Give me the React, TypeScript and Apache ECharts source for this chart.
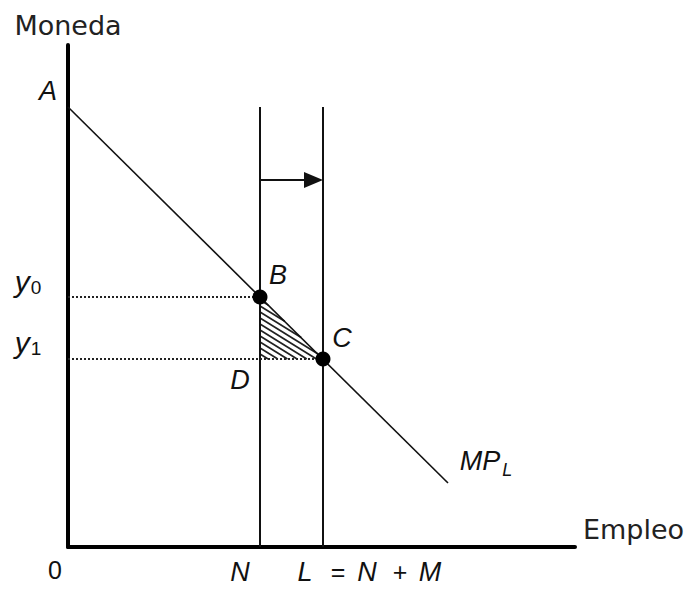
import React, { useEffect, useRef } from "react";
import * as echarts from "echarts";

// Data (abstract units: x = employment, y = money)
const mplCurve: number[][] = [[0, 440], [380, 64]];
const laborN = 192;
const laborL = 255;
const lineTop = 440;
const wageY0 = 250;
const wageY1 = 188;
const arrowY = 367;
const equilibriumPoints: number[][] = [[192, 250], [255, 188]];
const hatchTriangle: number[] = [192, 250, 255, 188];

// Annotation labels (text + anchor in data units)
const annotationTexts = ["{i|A}", "{y|y}{s|0}", "{y|y}{s|1}", "{i|B}", "{i|C}", "{i|D}", "{i|MP}{si|L}", "{n|0}", "{i|N}", "{i|L}", "{n|=}", "{i|N}", "{n|+}", "{i|M}"];
const annotationX = [-20, -40, -40, 210, 274, 172, 418, -13, 172, 237, 270, 299, 332, 362];
const annotationY = [456, 266, 205, 272, 209, 167, 86, -23, -25, -25, -25, -25, -25, -25];

export default function App() {
  const ref = useRef<HTMLDivElement>(null);
  useEffect(() => {
    if (!ref.current) return;
    const chart = echarts.init(ref.current, null, { renderer: "svg" });
    const ink = "#111";
    const rich = {
      i: { fontFamily: "Liberation Sans", fontStyle: "italic", fontSize: 27, color: ink },
      y: { fontFamily: "Liberation Sans", fontStyle: "italic", fontSize: 30, color: ink },
      n: { fontFamily: "Liberation Sans", fontSize: 25, color: ink },
      s: { fontFamily: "Liberation Sans", fontSize: 19, color: ink, verticalAlign: "bottom", padding: [0, 0, -1, 1] },
      si: { fontFamily: "Liberation Sans", fontStyle: "italic", fontSize: 18, color: ink, verticalAlign: "bottom", padding: [0, 0, -4, 2] },
    };
    const plainLine = (data: number[][], width: number, type: any = "solid", color: string = ink) => ({
      type: "line",
      data,
      symbol: "none",
      silent: true,
      lineStyle: { color, width, type },
      z: 3,
    });
    chart.setOption({
      animation: false,
      grid: { left: 68, top: 45, right: 118, bottom: 42 },
      xAxis: {
        type: "value",
        min: 0,
        max: 507,
        name: "Empleo",
        nameLocation: "end",
        nameGap: 8,
        nameTextStyle: { fontFamily: "DejaVu Sans", fontSize: 27, color: "#222", verticalAlign: "bottom", padding: [0, 0, 4, 0] },
        axisLine: { show: true, lineStyle: { color: "#000", width: 4 } },
        axisTick: { show: false },
        axisLabel: { show: false },
        splitLine: { show: false },
      },
      yAxis: {
        type: "value",
        min: 0,
        max: 502,
        name: "Moneda",
        nameLocation: "end",
        nameGap: 6,
        nameTextStyle: { fontFamily: "DejaVu Sans", fontSize: 27, color: "#222" },
        axisLine: { show: true, lineStyle: { color: "#000", width: 4 } },
        axisTick: { show: false },
        axisLabel: { show: false },
        splitLine: { show: false },
      },
      series: [
        plainLine(mplCurve, 1.6),
        plainLine([[laborN, 0], [laborN, lineTop]], 2),
        plainLine([[laborL, 0], [laborL, lineTop]], 2),
        plainLine([[0, wageY0], [laborN, wageY0]], 1.8, [2, 2], "#222"),
        plainLine([[0, wageY1], [laborL, wageY1]], 1.8, [2, 2], "#222"),
        {
          type: "custom",
          silent: true,
          data: [[laborN, arrowY, laborL, arrowY]],
          renderItem: (params: any, api: any) => {
            const p0 = api.coord([api.value(0), api.value(1)]);
            const p1 = api.coord([api.value(2), api.value(3)]);
            const headLen = 19;
            const headHalf = 8;
            return {
              type: "group",
              children: [
                { type: "line", shape: { x1: p0[0], y1: p0[1], x2: p1[0] - headLen + 2, y2: p1[1] }, style: { stroke: ink, lineWidth: 2 } },
                {
                  type: "polygon",
                  shape: { points: [[p1[0], p1[1]], [p1[0] - headLen, p1[1] - headHalf], [p1[0] - headLen, p1[1] + headHalf]] },
                  style: { fill: ink },
                },
              ],
            };
          },
          z: 4,
        },
        {
          type: "custom",
          silent: true,
          data: [hatchTriangle],
          renderItem: (params: any, api: any) => {
            const pB = api.coord([api.value(0), api.value(1)]);
            const pD = api.coord([api.value(0), api.value(3)]);
            const pC = api.coord([api.value(2), api.value(3)]);
            const x0 = pB[0];
            const yTop = pB[1];
            const yBot = pD[1];
            const s = (pC[1] - pB[1]) / (pC[0] - pB[0]);
            const m = 0.62;
            const step = 6;
            const children: any[] = [];
            for (let c = yTop + 3; c <= yBot; c += step) {
              const dxHyp = (c - yTop) / (s - m);
              const dxBot = (yBot - c) / m;
              const dx = Math.min(dxHyp, dxBot);
              children.push({
                type: "line",
                shape: { x1: x0, y1: c, x2: x0 + dx, y2: c + m * dx },
                style: { stroke: "#222", lineWidth: 1.7 },
              });
            }
            return { type: "group", children };
          },
          z: 2,
        },
        {
          type: "scatter",
          data: equilibriumPoints,
          symbolSize: 15,
          itemStyle: { color: "#000", opacity: 1 },
          silent: true,
          z: 5,
        },
        {
          type: "scatter",
          clip: false,
          symbolSize: 0,
          silent: true,
          itemStyle: { opacity: 1 },
          data: annotationTexts.map((t, k) => ({ value: [annotationX[k], annotationY[k]], text: t })),
          label: {
            show: true,
            position: "inside",
            align: "center",
            verticalAlign: "middle",
            color: ink,
            textBorderWidth: 0,
            formatter: (p: any) => p.data.text,
            rich,
          },
          z: 6,
        },
      ],
    });
    return () => chart.dispose();
  }, []);
  return <div ref={ref} style={{ position: "fixed", left: 0, top: 0, width: 693, height: 589, background: "#fff" }} />;
}
